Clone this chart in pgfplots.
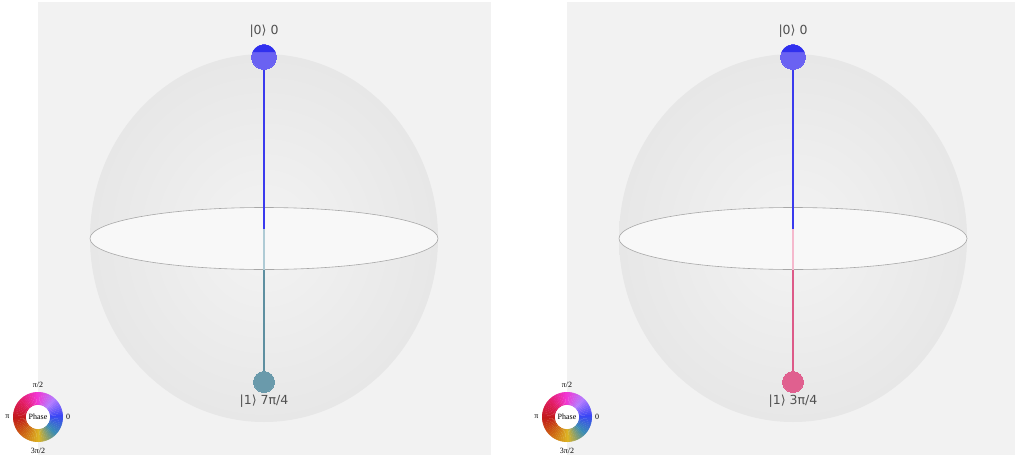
\documentclass[border=0pt]{standalone}
\usepackage{pgfplots}
\pgfplotsset{compat=1.18}
\usepackage{fontspec}
\setmainfont{DejaVu Sans}
\newfontfamily\wheelfont{Liberation Serif}
\definecolor{panel}{HTML}{F2F2F2}
\definecolor{sphin}{HTML}{F3F3F3}
\definecolor{sphout}{HTML}{E7E7E7}
\definecolor{eqfill}{HTML}{F8F8F8}
\definecolor{eqline}{HTML}{A8A8A8}
\definecolor{zline}{HTML}{3A3AEE}
\definecolor{zdark}{HTML}{3030EE}
\definecolor{zlight}{HTML}{6A62F2}
\definecolor{tline}{HTML}{5E8FA0}
\definecolor{tfade}{HTML}{AFCBD5}
\definecolor{tball}{HTML}{6A9AAB}
\definecolor{pline}{HTML}{DD5A88}
\definecolor{pfade}{HTML}{F5B9CD}
\definecolor{pball}{HTML}{E0608F}
\definecolor{txt}{HTML}{505050}
% phase wheel colours, every 45 degrees counter-clockwise from the right
\definecolor{pc0}{HTML}{3A46F5}
\definecolor{pc1}{HTML}{B47CFF}
\definecolor{pc2}{HTML}{F236D2}
\definecolor{pc3}{HTML}{E21C62}
\definecolor{pc4}{HTML}{C21A1A}
\definecolor{pc5}{HTML}{CC6212}
\definecolor{pc6}{HTML}{DDB424}
\definecolor{pc7}{HTML}{3A8CB4}
\definecolor{pc8}{HTML}{3A46F5}

% upper cap of a circle (for the shaded top of the |0> ball)
\pgfdeclareplotmark{topcap}{%
  \pgfpathmoveto{\pgfpoint{0.92\pgfplotmarksize}{0.4\pgfplotmarksize}}%
  \pgfpatharc{23.6}{156.4}{\pgfplotmarksize}%
  \pgfpathclose
  \pgfusepathqfill}

\newcommand{\sphere}[1]{% #1 = x centre in px
  \shade[inner color=sphin, outer color=sphout] (#1pt,-238pt) ellipse [x radius=174pt, y radius=184pt];
  \filldraw[fill=eqfill, draw=eqline, line width=0.6pt] (#1pt,-238.5pt) ellipse [x radius=174pt, y radius=31pt];
}
\newcommand{\wheel}[1]{% #1 = x centre in px
  \begin{scope}[shift={(#1pt,-417pt)}]
    \foreach \i in {0,...,71}{
      \pgfmathtruncatemacro{\k}{floor(\i/9)}
      \pgfmathtruncatemacro{\kk}{\k+1}
      \pgfmathtruncatemacro{\t}{round(100*mod(\i,9)/9)}
      \pgfmathsetmacro{\a}{\i*5}
      \pgfmathsetmacro{\b}{\i*5+5.6}
      \colorlet{wc}{pc\kk!\t!pc\k}
      \fill[wc] (\a:25pt) arc[start angle=\a, end angle=\b, radius=25pt] -- (\b:12pt) arc[start angle=\b, end angle=\a, radius=12pt] -- cycle;
    }
    \fill[white] (0,0) circle (12pt);
    \node[font=\wheelfont\fontsize{8}{9}\selectfont] at (0,0) {Phase};
    \node[font=\wheelfont\fontsize{8}{9}\selectfont] at (0,32pt) {π/2};
    \node[font=\wheelfont\fontsize{8}{9}\selectfont] at (-30.5pt,0) {π};
    \node[font=\wheelfont\fontsize{8}{9}\selectfont] at (30pt,0) {0};
    \node[font=\wheelfont\fontsize{8}{9}\selectfont] at (0,-34pt) {3π/2};
  \end{scope}
}

\pgfplotsset{qs/.style={
  scale only axis, hide axis, clip=false, y dir=reverse,
  ymin=2, ymax=455, height=453pt, anchor=north west}}

\begin{document}
\begin{tikzpicture}
\path[use as bounding box, fill=white] (0,0) rectangle (1015pt,-458pt);
\fill[panel] (38pt,-2pt) rectangle (491pt,-455pt);
\fill[panel] (567pt,-2pt) rectangle (1015pt,-455pt);
\sphere{264}
\sphere{793}

% left qsphere
\begin{axis}[qs, at={(38pt,-2pt)}, xmin=38, xmax=491, width=453pt]
\addplot[tline, line width=2.3pt] coordinates {(264,270) (264,382)};
\addplot[tfade, line width=2.3pt] coordinates {(264,229) (264,270)};
\addplot[zline, line width=2.3pt] coordinates {(264,57) (264,229)};
\addplot[only marks, mark=*, mark size=10.5pt, draw=tball, fill=tball, mark options={line width=0pt}] coordinates {(264,382)};
\addplot[only marks, mark=*, mark size=12.5pt, draw=zlight, fill=zlight, mark options={line width=0pt}] coordinates {(264,57)};
\addplot[only marks, mark=topcap, mark size=12.5pt, color=zdark] coordinates {(264,57)};
\node[txt, font=\fontsize{12.5}{13}\selectfont] at (axis cs:264,31) {|0⟩ 0};
\node[txt, font=\fontsize{12.5}{13}\selectfont] at (axis cs:264,401.5) {|1⟩ 7π/4};
\end{axis}

% right qsphere
\begin{axis}[qs, at={(567pt,-2pt)}, xmin=567, xmax=1015, width=448pt]
\addplot[pline, line width=2.3pt] coordinates {(793,270) (793,382)};
\addplot[pfade, line width=2.3pt] coordinates {(793,229) (793,270)};
\addplot[zline, line width=2.3pt] coordinates {(793,57) (793,229)};
\addplot[only marks, mark=*, mark size=10.5pt, draw=pball, fill=pball, mark options={line width=0pt}] coordinates {(793,382)};
\addplot[only marks, mark=*, mark size=12.5pt, draw=zlight, fill=zlight, mark options={line width=0pt}] coordinates {(793,57)};
\addplot[only marks, mark=topcap, mark size=12.5pt, color=zdark] coordinates {(793,57)};
\node[txt, font=\fontsize{12.5}{13}\selectfont] at (axis cs:793,31) {|0⟩ 0};
\node[txt, font=\fontsize{12.5}{13}\selectfont] at (axis cs:793,401.5) {|1⟩ 3π/4};
\end{axis}

\wheel{38}
\wheel{567}
\end{tikzpicture}
\end{document}
